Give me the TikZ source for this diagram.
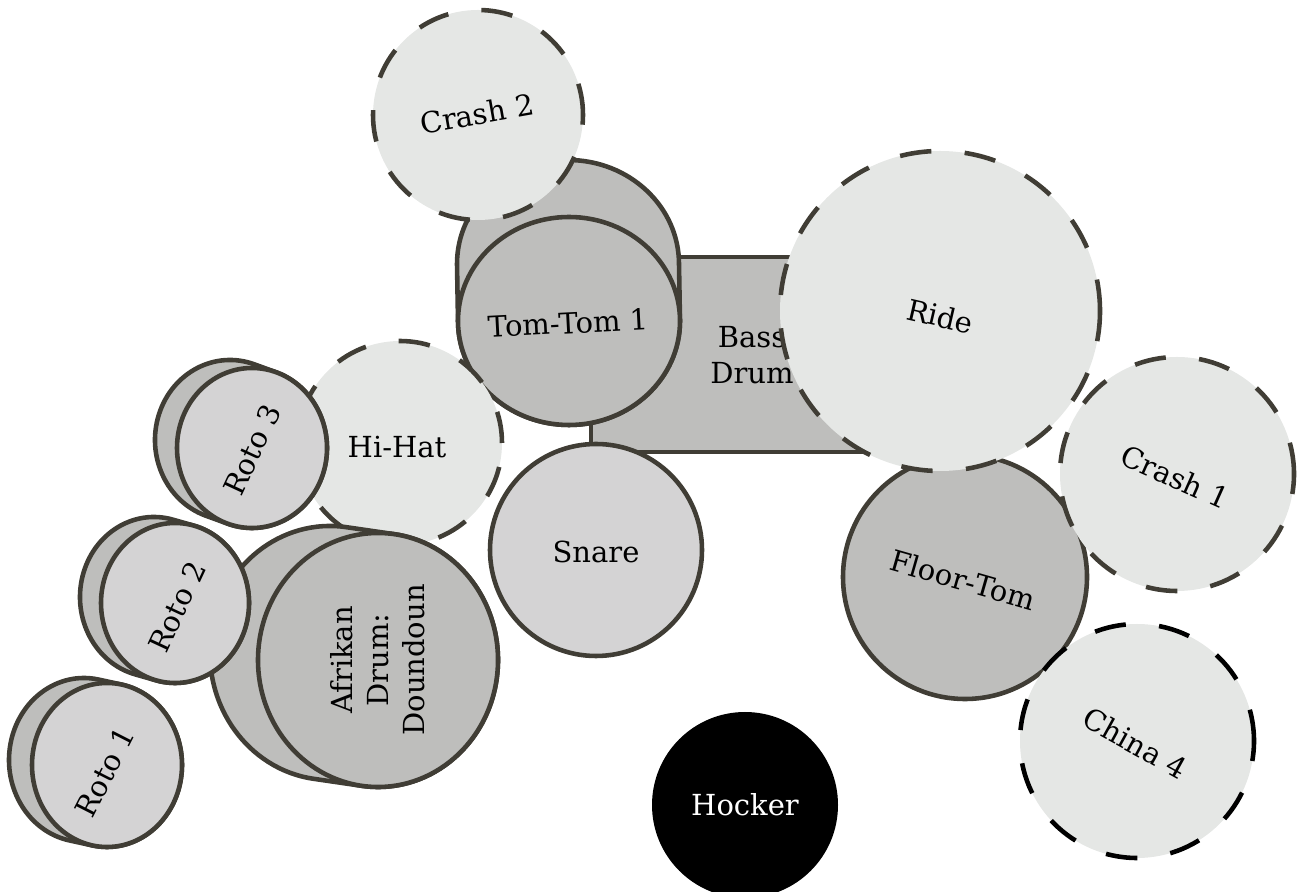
\documentclass[tikz,border=0pt]{standalone}
\usepackage{fontspec}
\setmainfont{DejaVu Serif}

\definecolor{rim}{HTML}{403D35}
\definecolor{cymbalgray}{HTML}{E5E7E5}
\definecolor{shellgray}{HTML}{BEBEBC}
\definecolor{headgray}{HTML}{D4D3D4}

\begin{document}
\begin{tikzpicture}
  [x=0.02cm,y=0.02cm,every node/.style={font=\fontsize{16.5}{20.5}\selectfont,align=center}]

  \tikzstyle{drum}   = [draw=rim, line width=2.6pt, fill=shellgray]
  \tikzstyle{skin}   = [drum, fill=headgray]
  \tikzstyle{cymbal} = [draw=rim, line width=2.6pt, fill=cymbalgray, dash pattern=on 18pt off 19pt]

  \useasboundingbox (0,0) rectangle (1298,892);

  % bass drum
  \filldraw[drum] (591,440) rectangle (910,635);
  \node (bass) at (752,537) {Bass\\Drum};

  % tom-tom 1
  \filldraw[drum] (568,628) ++(0:111 and 104) arc[start angle=0, end angle=180, x radius=111, y radius=104]
        -- ++(1,-57) arc[start angle=180, end angle=360, x radius=111, y radius=104] -- cycle;
  \filldraw[drum] (569,571) ellipse[x radius=111, y radius=104];
  \node[rotate=3] (tom) at (568,569) {Tom-Tom 1};

  % crash 2
  \filldraw[cymbal] (478,777) circle[radius=105];
  \node[rotate=10] (crashtwo) at (477,778) {Crash 2};

  % hi-hat
  \filldraw[cymbal] (400,449) circle[radius=102];
  \node (hihat) at (397,445) {Hi-Hat};

  % roto 3
  \filldraw[drum] (230,452) ++(71:75 and 80) arc[start angle=71, end angle=251, x radius=75, y radius=80]
        -- ++(22,-8) arc[start angle=251, end angle=431, x radius=75, y radius=80] -- cycle;
  \filldraw[skin] (252,444) ellipse[x radius=75, y radius=80];
  \node[rotate=65] (rotothree) at (252,442) {Roto 3};

  % snare
  \filldraw[skin] (596,342) circle[radius=106];
  \node (snare) at (596,340) {Snare};

  % afrikan drum
  \filldraw[drum] (330,239) ++(82:120 and 127) arc[start angle=82, end angle=262, x radius=120, y radius=127]
        -- ++(48,-7) arc[start angle=262, end angle=442, x radius=120, y radius=127] -- cycle;
  \filldraw[drum] (378,232) ellipse[x radius=120, y radius=127];
  \node[rotate=90] (doundoun) at (378,232) {Afrikan\\Drum:\\Doundoun};

  % roto 2
  \filldraw[drum] (154,295) ++(75:74 and 80) arc[start angle=75, end angle=255, x radius=74, y radius=80]
        -- ++(21,-6) arc[start angle=255, end angle=435, x radius=74, y radius=80] -- cycle;
  \filldraw[skin] (175,289) ellipse[x radius=74, y radius=80];
  \node[rotate=65] (rototwo) at (177,285) {Roto 2};

  % roto 1
  \filldraw[drum] (84,132) ++(79:75 and 82) arc[start angle=79, end angle=259, x radius=75, y radius=82]
        -- ++(23,-5) arc[start angle=259, end angle=439, x radius=75, y radius=82] -- cycle;
  \filldraw[skin] (107,127) ellipse[x radius=75, y radius=82];
  \node[rotate=63] (rotoone) at (105,120) {Roto 1};

  % floor-tom
  \filldraw[drum] (965,315) circle[radius=122];
  \node[rotate=-16] (floortom) at (963,312) {Floor-Tom};

  % ride
  \filldraw[cymbal] (940,581) circle[radius=160];
  \node[rotate=-13] (ride) at (940,576) {Ride};

  % crash 1
  \filldraw[cymbal] (1177,418) circle[radius=117];
  \node[rotate=-24] (crashone) at (1175,415) {Crash 1};

  % china 4
  \filldraw[cymbal, draw=black] (1137,151) circle[radius=117];
  \node[rotate=-29] (china) at (1135,149) {China 4};

  % hocker
  \fill[black] (745,87) circle[radius=93];
  \node[text=white] (hocker) at (745,87) {Hocker};
\end{tikzpicture}
\end{document}
